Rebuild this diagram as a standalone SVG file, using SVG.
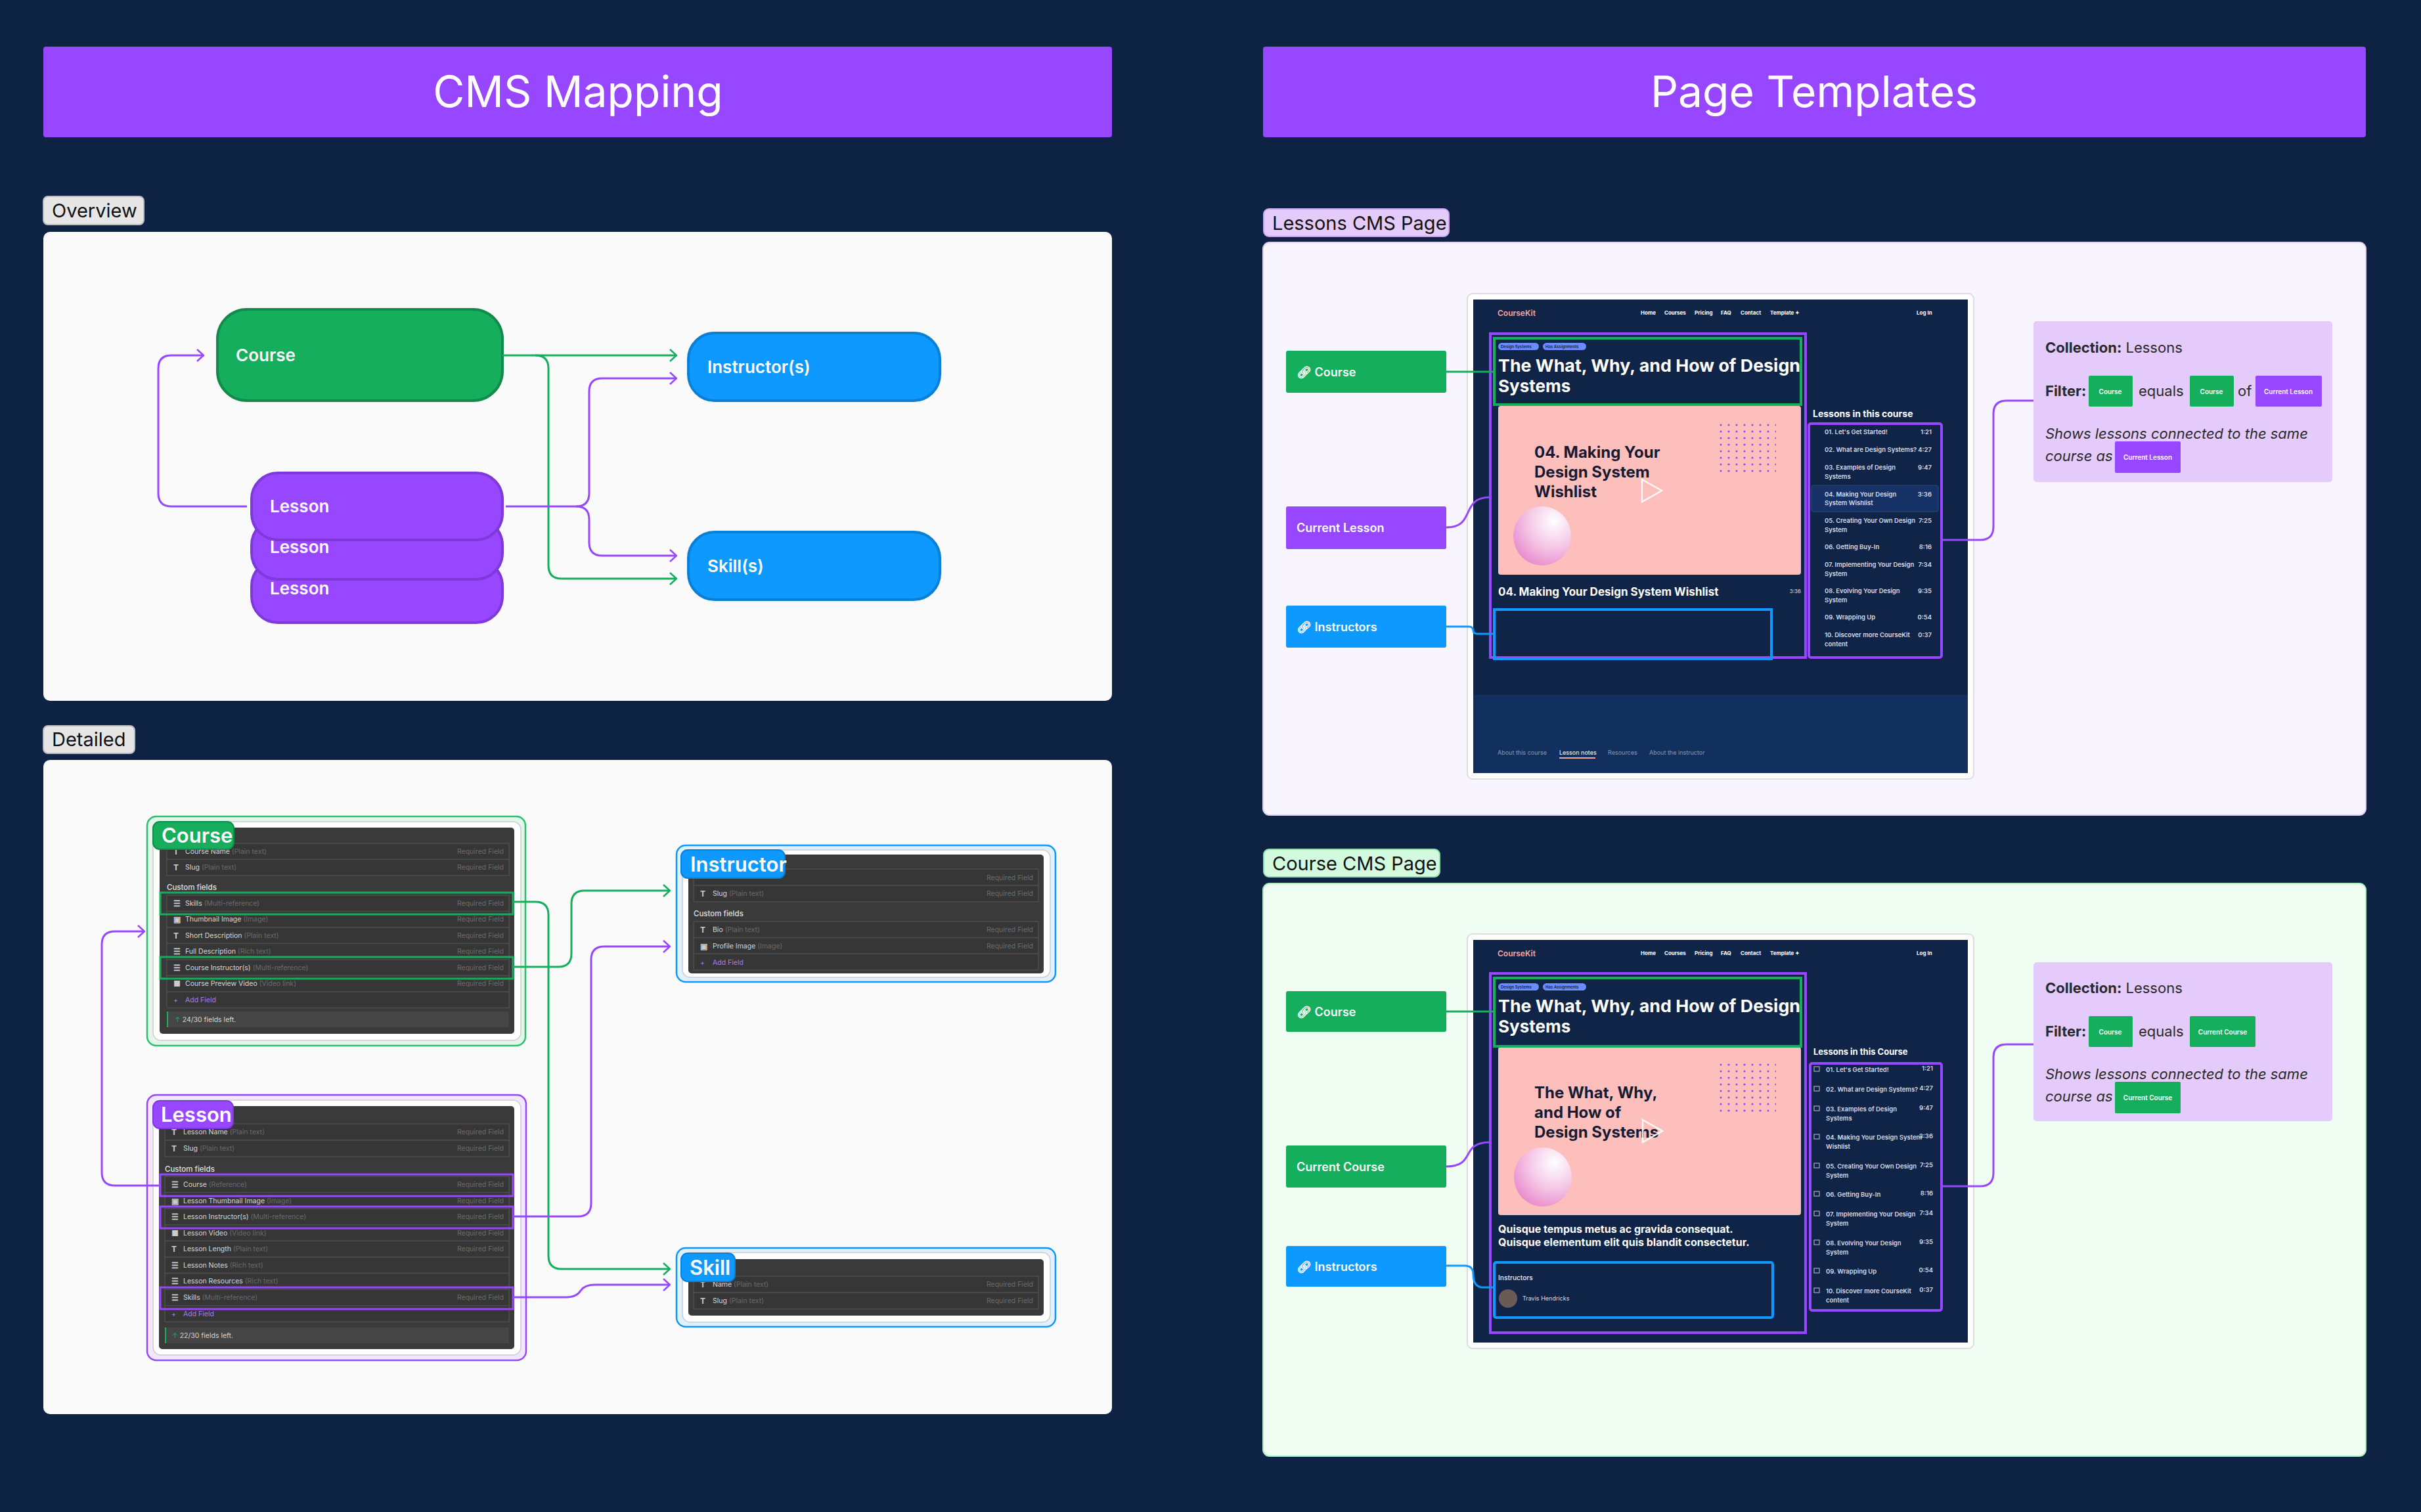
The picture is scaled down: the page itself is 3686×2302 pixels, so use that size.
<svg xmlns="http://www.w3.org/2000/svg" width="3686" height="2302" viewBox="0 0 3686 2302">
<defs>
<style>
text{font-family:Inter,"Liberation Sans",sans-serif}
.h1{font-size:66px;fill:#fff;text-anchor:middle}
.tag{font-size:29px;fill:#111}
.nd{font-size:26px;fill:#fff;font-weight:600}
.ct{font-size:31px;fill:#fff;font-weight:600}
.row{fill:#363636;stroke:#4d4d4d;stroke-width:1.5}
.rn{font-size:10.5px;fill:#d6d6d6}
.rt{font-size:10.5px;fill:#6b6b6b}
.rq{font-size:10.5px;fill:#6b6b6b;text-anchor:end}
.cf{font-size:11.5px;fill:#e0e0e0;font-weight:500}
.ic{font-size:12px;fill:#ccc;font-weight:700}
.add{font-size:10.5px;fill:#a77df0}
.g{stroke:#14ae5c;stroke-width:3;fill:none}
.p{stroke:#9747ff;stroke-width:3;fill:none}
.b{stroke:#0d99ff;stroke-width:3;fill:none}
.nav{font-size:8px;fill:#fff;font-weight:700}
.li{font-size:9.5px;fill:#d8dce6;font-weight:600}
.lt{font-size:9.5px;fill:#d8dce6;font-weight:600;text-anchor:end}
.lab{font-size:18px;fill:#fff;font-weight:600}
.ft{font-size:22px;fill:#2a2a2a}
.chip{font-size:10px;fill:#fff;font-weight:600;text-anchor:middle}
</style>
<marker id="ag" viewBox="0 0 12 20" refX="11" refY="10" markerWidth="12" markerHeight="20" markerUnits="userSpaceOnUse" orient="auto"><path d="M1,1 L11,10 L1,19" fill="none" stroke="#14ae5c" stroke-width="2.5"/></marker>
<marker id="ap" viewBox="0 0 12 20" refX="11" refY="10" markerWidth="12" markerHeight="20" markerUnits="userSpaceOnUse" orient="auto"><path d="M1,1 L11,10 L1,19" fill="none" stroke="#9747ff" stroke-width="2.5"/></marker>
<radialGradient id="sph" cx="0.7" cy="0.25" r="0.9"><stop offset="0" stop-color="#fff"/><stop offset="0.5" stop-color="#f5c6e6"/><stop offset="1" stop-color="#e67fc7"/></radialGradient>
<pattern id="dots" x="2618" y="645" width="12" height="10" patternUnits="userSpaceOnUse"><circle cx="2" cy="2" r="1.6" fill="#9747ff"/></pattern>
<pattern id="dots2" x="2618" y="1619" width="12" height="10" patternUnits="userSpaceOnUse"><circle cx="2" cy="2" r="1.6" fill="#9747ff"/></pattern>
</defs>
<rect width="3686" height="2302" fill="#0e2244"/>

<!-- titles -->
<g id="title-cms"><rect x="66" y="71" width="1627" height="138" rx="4" fill="#9747ff"/><text class="h1" x="880" y="163">CMS Mapping</text></g>
<g id="title-pages"><rect x="1923" y="71" width="1679" height="138" rx="4" fill="#9747ff"/><text class="h1" x="2762" y="163">Page Templates</text></g>

<!-- Overview -->
<g id="overview-tag"><rect x="66" y="299" width="153" height="43" rx="7" fill="#e6e6e6" stroke="#bbb" stroke-width="2"/><text class="tag" x="79" y="331">Overview</text></g>
<rect x="66" y="353" width="1627" height="714" rx="10" fill="#fafafa"/>
<g id="ov-lesson3"><rect x="383" y="852" width="382" height="96" rx="40" fill="#9747ff" stroke="#7f38d9" stroke-width="4"/><text class="nd" x="411" y="905">Lesson</text></g>
<g id="ov-lesson2"><rect x="383" y="790" width="382" height="92" rx="40" fill="#9747ff" stroke="#7f38d9" stroke-width="4"/><text class="nd" x="411" y="842">Lesson</text></g>
<g id="ov-lesson1"><rect x="383" y="720" width="382" height="102" rx="40" fill="#9747ff" stroke="#7f38d9" stroke-width="4"/><text class="nd" x="411" y="780">Lesson</text></g>
<g id="ov-course"><rect x="331" y="471" width="434" height="139" rx="45" fill="#14ae5c" stroke="#128a4b" stroke-width="4"/><text class="nd" x="359" y="550">Course</text></g>
<g id="ov-instructor"><rect x="1048" y="507" width="383" height="103" rx="40" fill="#0d99ff" stroke="#0a7fd6" stroke-width="4"/><text class="nd" x="1077" y="568">Instructor(s)</text></g>
<g id="ov-skill"><rect x="1048" y="810" width="383" height="103" rx="40" fill="#0d99ff" stroke="#0a7fd6" stroke-width="4"/><text class="nd" x="1077" y="871">Skill(s)</text></g>

<!-- Detailed -->
<g id="detailed-tag"><rect x="66" y="1105" width="139" height="42" rx="7" fill="#e6e6e6" stroke="#bbb" stroke-width="2"/><text class="tag" x="79" y="1136">Detailed</text></g>
<rect x="66" y="1157" width="1627" height="996" rx="10" fill="#fafafa"/>

<g id="d-course">
<rect x="224" y="1243" width="576" height="349" rx="14" fill="#e3f6ea" stroke="#2cc06c" stroke-width="2.5"/>
<rect x="233" y="1251" width="560" height="333" rx="12" fill="#fff" stroke="#ccc" stroke-width="1.5"/>
<rect x="243" y="1260" width="540" height="314" rx="5" fill="#3a3a3a"/>
<rect class="row" x="254" y="1284" width="521" height="24.5"/><rect class="row" x="254" y="1308.5" width="521" height="24.5"/>
<text class="ic" x="264" y="1301">T</text><text class="rn" x="282" y="1300">Course Name <tspan class="rt">(Plain text)</tspan></text><text class="rq" x="767" y="1300">Required Field</text>
<text class="ic" x="264" y="1325">T</text><text class="rn" x="282" y="1324">Slug <tspan class="rt">(Plain text)</tspan></text><text class="rq" x="767" y="1324">Required Field</text>
<text class="cf" x="254" y="1355">Custom fields</text>
<rect class="row" x="254" y="1363" width="521" height="24.5"/><rect class="row" x="254" y="1387.5" width="521" height="24.5"/><rect class="row" x="254" y="1412" width="521" height="24.5"/><rect class="row" x="254" y="1436.5" width="521" height="24.5"/><rect class="row" x="254" y="1461" width="521" height="24.5"/><rect class="row" x="254" y="1485.5" width="521" height="24.5"/><rect class="row" x="254" y="1510" width="521" height="24.5"/>
<text class="ic" x="264" y="1380">☰</text><text class="rn" x="282" y="1379">Skills <tspan class="rt">(Multi-reference)</tspan></text><text class="rq" x="767" y="1379">Required Field</text>
<text class="ic" x="264" y="1404">▣</text><text class="rn" x="282" y="1403">Thumbnail Image <tspan class="rt">(Image)</tspan></text><text class="rq" x="767" y="1403">Required Field</text>
<text class="ic" x="264" y="1429">T</text><text class="rn" x="282" y="1428">Short Description <tspan class="rt">(Plain text)</tspan></text><text class="rq" x="767" y="1428">Required Field</text>
<text class="ic" x="264" y="1453">☰</text><text class="rn" x="282" y="1452">Full Description <tspan class="rt">(Rich text)</tspan></text><text class="rq" x="767" y="1452">Required Field</text>
<text class="ic" x="264" y="1478">☰</text><text class="rn" x="282" y="1477">Course Instructor(s) <tspan class="rt">(Multi-reference)</tspan></text><text class="rq" x="767" y="1477">Required Field</text>
<text class="ic" x="264" y="1502">■</text><text class="rn" x="282" y="1501">Course Preview Video <tspan class="rt">(Video link)</tspan></text><text class="rq" x="767" y="1501">Required Field</text>
<text class="add" x="264" y="1526">+</text><text class="add" x="282" y="1526">Add Field</text>
<rect x="254" y="1540" width="521" height="24" fill="#454545"/><rect x="254" y="1540" width="2" height="24" fill="#14ae5c"/>
<text class="rn" x="266" y="1556"><tspan fill="#14ae5c">↑</tspan> 24/30 fields left.</text>
<rect x="244" y="1359" width="537" height="33" fill="none" stroke="#14ae5c" stroke-width="3"/>
<rect x="244" y="1457" width="537" height="33" fill="none" stroke="#14ae5c" stroke-width="3"/>
<rect x="233" y="1251" width="123" height="42" rx="10" fill="#14ae5c" stroke="#128a4b" stroke-width="2"/><text class="ct" x="246" y="1283">Course</text>
</g>

<g id="d-lesson">
<rect x="224" y="1667" width="577" height="404" rx="14" fill="#f1e7ff" stroke="#9747ff" stroke-width="2.5"/>
<rect x="233" y="1675" width="560" height="388" rx="12" fill="#fff" stroke="#ccc" stroke-width="1.5"/>
<rect x="242" y="1684" width="541" height="370" rx="5" fill="#3a3a3a"/>
<rect class="row" x="251" y="1711" width="524" height="25"/><rect class="row" x="251" y="1736" width="524" height="25"/>
<text class="ic" x="261" y="1728">T</text><text class="rn" x="279" y="1727">Lesson Name <tspan class="rt">(Plain text)</tspan></text><text class="rq" x="767" y="1727">Required Field</text>
<text class="ic" x="261" y="1753">T</text><text class="rn" x="279" y="1752">Slug <tspan class="rt">(Plain text)</tspan></text><text class="rq" x="767" y="1752">Required Field</text>
<text class="cf" x="251" y="1784">Custom fields</text>
<rect class="row" x="251" y="1791" width="524" height="24.6"/><rect class="row" x="251" y="1815.6" width="524" height="24.6"/><rect class="row" x="251" y="1840.2" width="524" height="24.6"/><rect class="row" x="251" y="1864.8" width="524" height="24.6"/><rect class="row" x="251" y="1889.4" width="524" height="24.6"/><rect class="row" x="251" y="1914" width="524" height="24.6"/><rect class="row" x="251" y="1938.6" width="524" height="24.6"/><rect class="row" x="251" y="1963.2" width="524" height="24.6"/><rect class="row" x="251" y="1987.8" width="524" height="24.6"/>
<text class="ic" x="261" y="1808">☰</text><text class="rn" x="279" y="1807">Course <tspan class="rt">(Reference)</tspan></text><text class="rq" x="767" y="1807">Required Field</text>
<text class="ic" x="261" y="1833">▣</text><text class="rn" x="279" y="1832">Lesson Thumbnail Image <tspan class="rt">(Image)</tspan></text><text class="rq" x="767" y="1832">Required Field</text>
<text class="ic" x="261" y="1857">☰</text><text class="rn" x="279" y="1856">Lesson Instructor(s) <tspan class="rt">(Multi-reference)</tspan></text><text class="rq" x="767" y="1856">Required Field</text>
<text class="ic" x="261" y="1882">■</text><text class="rn" x="279" y="1881">Lesson Video <tspan class="rt">(Video link)</tspan></text><text class="rq" x="767" y="1881">Required Field</text>
<text class="ic" x="261" y="1906">T</text><text class="rn" x="279" y="1905">Lesson Length <tspan class="rt">(Plain text)</tspan></text><text class="rq" x="767" y="1905">Required Field</text>
<text class="ic" x="261" y="1931">☰</text><text class="rn" x="279" y="1930">Lesson Notes <tspan class="rt">(Rich text)</tspan></text>
<text class="ic" x="261" y="1955">☰</text><text class="rn" x="279" y="1954">Lesson Resources <tspan class="rt">(Rich text)</tspan></text>
<text class="ic" x="261" y="1980">☰</text><text class="rn" x="279" y="1979">Skills <tspan class="rt">(Multi-reference)</tspan></text><text class="rq" x="767" y="1979">Required Field</text>
<text class="add" x="261" y="2004">+</text><text class="add" x="279" y="2004">Add Field</text>
<rect x="251" y="2021" width="524" height="24" fill="#454545"/><rect x="251" y="2021" width="2" height="24" fill="#14ae5c"/>
<text class="rn" x="262" y="2037"><tspan fill="#14ae5c">↑</tspan> 22/30 fields left.</text>
<rect x="244" y="1788" width="537" height="33" fill="none" stroke="#9747ff" stroke-width="3"/>
<rect x="244" y="1837" width="537" height="33" fill="none" stroke="#9747ff" stroke-width="3"/>
<rect x="244" y="1960" width="537" height="33" fill="none" stroke="#9747ff" stroke-width="3"/>
<rect x="233" y="1676" width="122" height="42" rx="10" fill="#9747ff" stroke="#7f38d9" stroke-width="2"/><text class="ct" x="245" y="1708">Lesson</text>
</g>

<g id="d-instructor">
<rect x="1030" y="1287" width="577" height="208" rx="14" fill="#dff0ff" stroke="#0d99ff" stroke-width="2.5"/>
<rect x="1039" y="1294" width="560" height="194" rx="12" fill="#fff" stroke="#ccc" stroke-width="1.5"/>
<rect x="1048" y="1301" width="541" height="181" rx="5" fill="#3a3a3a"/>
<rect class="row" x="1056" y="1323" width="525" height="25"/><rect class="row" x="1056" y="1348" width="525" height="25"/>
<text class="ic" x="1066" y="1365">T</text><text class="rn" x="1085" y="1364">Slug <tspan class="rt">(Plain text)</tspan></text><text class="rq" x="1573" y="1340">Required Field</text><text class="rq" x="1573" y="1364">Required Field</text>
<text class="cf" x="1056" y="1395">Custom fields</text>
<rect class="row" x="1056" y="1403" width="525" height="24.6"/><rect class="row" x="1056" y="1427.6" width="525" height="24.6"/><rect class="row" x="1056" y="1452.2" width="525" height="24.6"/>
<text class="ic" x="1066" y="1420">T</text><text class="rn" x="1085" y="1419">Bio <tspan class="rt">(Plain text)</tspan></text><text class="rq" x="1573" y="1419">Required Field</text>
<text class="ic" x="1066" y="1445">▣</text><text class="rn" x="1085" y="1444">Profile Image <tspan class="rt">(Image)</tspan></text><text class="rq" x="1573" y="1444">Required Field</text>
<text class="add" x="1066" y="1469">+</text><text class="add" x="1085" y="1469">Add Field</text>
<rect x="1037" y="1294" width="158" height="43" rx="10" fill="#0d99ff" stroke="#0a7fd6" stroke-width="2"/><text class="ct" x="1051" y="1327">Instructor</text>
</g>

<g id="d-skill">
<rect x="1030" y="1900" width="577" height="120" rx="14" fill="#dff0ff" stroke="#0d99ff" stroke-width="2.5"/>
<rect x="1039" y="1907" width="560" height="106" rx="12" fill="#fff" stroke="#ccc" stroke-width="1.5"/>
<rect x="1048" y="1917" width="541" height="86" rx="5" fill="#3a3a3a"/>
<rect class="row" x="1056" y="1943" width="525" height="25"/><rect class="row" x="1056" y="1968" width="525" height="25"/>
<text class="ic" x="1066" y="1960">T</text><text class="rn" x="1085" y="1959">Name <tspan class="rt">(Plain text)</tspan></text><text class="rq" x="1573" y="1959">Required Field</text>
<text class="ic" x="1066" y="1985">T</text><text class="rn" x="1085" y="1984">Slug <tspan class="rt">(Plain text)</tspan></text><text class="rq" x="1573" y="1984">Required Field</text>
<rect x="1037" y="1908" width="82" height="43" rx="10" fill="#0d99ff" stroke="#0a7fd6" stroke-width="2"/><text class="ct" x="1050" y="1941">Skill</text>
</g>

<!-- Lessons CMS Page -->
<g id="lessons-tag"><rect x="1924" y="318" width="282" height="42" rx="8" fill="#e4cbfb" stroke="#c9a6f5" stroke-width="2"/><text class="tag" x="1937" y="350">Lessons CMS Page</text></g>
<rect x="1923" y="369" width="1679" height="872" rx="10" fill="#f8f5fe" stroke="#ddd0f5" stroke-width="2"/>

<g id="lp-browser">
<rect x="2234" y="447" width="771" height="739" rx="8" fill="#fff" stroke="#ddd" stroke-width="2"/>
<rect x="2243" y="456" width="753" height="721" fill="#0f2446"/>
<rect x="2243" y="1058" width="753" height="119" fill="#12305e"/>
<text x="2280" y="481" font-size="12" fill="#f5a8a2" font-weight="600">CourseKit</text>
<text class="nav" x="2498" y="479">Home</text><text class="nav" x="2534" y="479">Courses</text><text class="nav" x="2580" y="479">Pricing</text><text class="nav" x="2620" y="479">FAQ</text><text class="nav" x="2650" y="479">Contact</text><text class="nav" x="2695" y="479">Template ✦</text><text class="nav" x="2918" y="479">Log In</text>
<rect x="2281" y="522" width="62" height="11" rx="5.5" fill="#6b8cff"/><text x="2285" y="530" font-size="6" fill="#0f2446" font-weight="600">Design Systems</text>
<rect x="2349" y="522" width="66" height="11" rx="5.5" fill="#6b8cff"/><text x="2353" y="530" font-size="6" fill="#0f2446" font-weight="600">Has Assignments</text>
<text x="2281" y="566" font-size="26" fill="#fff" font-weight="700" textLength="460" lengthAdjust="spacingAndGlyphs">The What, Why, and How of Design</text>
<text x="2281" y="597" font-size="26" fill="#fff" font-weight="700">Systems</text>
<rect x="2281" y="618" width="461" height="257" rx="4" fill="#fdbfbc"/>
<rect x="2618" y="645" width="86" height="76" fill="url(#dots)"/>
<text x="2336" y="697" font-size="24" fill="#161a33" font-weight="700">04. Making Your</text>
<text x="2336" y="727" font-size="24" fill="#161a33" font-weight="700">Design System</text>
<text x="2336" y="757" font-size="24" fill="#161a33" font-weight="700">Wishlist</text>
<path d="M2500,730 L2530,747 L2500,764 Z" fill="none" stroke="#fff" stroke-width="2.5" opacity="0.9"/>
<ellipse cx="2348" cy="816" rx="44" ry="45" fill="url(#sph)"/>
<text x="2281" y="907" font-size="17" fill="#fff" font-weight="700">04. Making Your Design System Wishlist</text>
<text x="2742" y="903" font-size="8" fill="#d8dce6" text-anchor="end">3:36</text>
<text x="2760" y="635" font-size="14" fill="#fff" font-weight="700">Lessons in this course</text>
<rect x="2758" y="739" width="193" height="40" rx="3" fill="#163266" stroke="#2c4a80"/>
<g>
<text class="li" x="2778" y="661">01. Let's Get Started!</text><text class="lt" x="2941" y="661">1:21</text>
<text class="li" x="2778" y="688">02. What are Design Systems?</text><text class="lt" x="2941" y="688">4:27</text>
<text class="li" x="2778" y="715">03. Examples of Design</text><text class="li" x="2778" y="729">Systems</text><text class="lt" x="2941" y="715">9:47</text>
<text class="li" x="2778" y="756" fill="#fff">04. Making Your Design</text><text class="li" x="2778" y="769">System Wishlist</text><text class="lt" x="2941" y="756">3:36</text>
<text class="li" x="2778" y="796">05. Creating Your Own Design</text><text class="li" x="2778" y="810">System</text><text class="lt" x="2941" y="796">7:25</text>
<text class="li" x="2778" y="836">06. Getting Buy-In</text><text class="lt" x="2941" y="836">8:16</text>
<text class="li" x="2778" y="863">07. Implementing Your Design</text><text class="li" x="2778" y="877">System</text><text class="lt" x="2941" y="863">7:34</text>
<text class="li" x="2778" y="903">08. Evolving Your Design</text><text class="li" x="2778" y="917">System</text><text class="lt" x="2941" y="903">9:35</text>
<text class="li" x="2778" y="943">09. Wrapping Up</text><text class="lt" x="2941" y="943">0:54</text>
<text class="li" x="2778" y="970">10. Discover more CourseKit</text><text class="li" x="2778" y="984">content</text><text class="lt" x="2941" y="970">0:37</text>
</g>
<text x="2280" y="1149" font-size="9" fill="#8b97b3">About this course</text>
<text x="2374" y="1149" font-size="9" fill="#fff">Lesson notes</text><rect x="2374" y="1153" width="55" height="2" fill="#f5a8a2"/>
<text x="2448" y="1149" font-size="9" fill="#8b97b3">Resources</text>
<text x="2511" y="1149" font-size="9" fill="#8b97b3">About the instructor</text>
<rect x="2269" y="508" width="480" height="493" fill="none" stroke="#9747ff" stroke-width="4"/>
<rect x="2275" y="515" width="467" height="101" fill="none" stroke="#14ae5c" stroke-width="4"/>
<rect x="2275" y="928" width="422" height="75" fill="none" stroke="#0d99ff" stroke-width="4"/>
<rect x="2754" y="645" width="202" height="356" rx="3" fill="none" stroke="#9747ff" stroke-width="4"/>
</g>

<g id="lp-course-label"><rect x="1958" y="534" width="244" height="64" rx="3" fill="#14ae5c"/><text class="lab" x="1974" y="573">🔗︎ Course</text></g>
<g id="lp-lesson-label"><rect x="1958" y="771" width="244" height="65" rx="3" fill="#9747ff"/><text class="lab" x="1974" y="810">Current Lesson</text></g>
<g id="lp-instr-label"><rect x="1958" y="922" width="244" height="64" rx="3" fill="#0d99ff"/><text class="lab" x="1974" y="961">🔗︎ Instructors</text></g>

<g id="lp-filter">
<rect x="3096" y="489" width="455" height="245" rx="5" fill="#e4cbfb"/>
<text class="ft" x="3114" y="537"><tspan font-weight="700">Collection:</tspan> Lessons</text>
<text class="ft" x="3114" y="603" font-weight="700">Filter:</text>
<rect x="3180" y="572" width="67" height="47" rx="2" fill="#14ae5c"/><text class="chip" x="3213" y="600">Course</text>
<text class="ft" x="3256" y="603">equals</text>
<rect x="3334" y="572" width="67" height="47" rx="2" fill="#14ae5c"/><text class="chip" x="3367" y="600">Course</text>
<text class="ft" x="3407" y="603">of</text>
<rect x="3434" y="572" width="101" height="47" rx="2" fill="#9747ff"/><text class="chip" x="3484" y="600">Current Lesson</text>
<text class="ft" x="3114" y="668" font-style="italic">Shows lessons connected to the same</text>
<text class="ft" x="3114" y="702" font-style="italic">course as</text>
<rect x="3220" y="672" width="100" height="48" rx="2" fill="#9747ff"/><text class="chip" x="3270" y="700">Current Lesson</text>
</g>

<!-- Course CMS Page -->
<g id="course-tag"><rect x="1924" y="1293" width="268" height="42" rx="8" fill="#d1fadf" stroke="#8fe0ad" stroke-width="2"/><text class="tag" x="1937" y="1325">Course CMS Page</text></g>
<rect x="1923" y="1345" width="1679" height="872" rx="10" fill="#effdf3" stroke="#a7f0c0" stroke-width="2"/>

<g id="cp-browser">
<rect x="2234" y="1422" width="771" height="631" rx="8" fill="#fff" stroke="#ddd" stroke-width="2"/>
<rect x="2243" y="1431" width="753" height="613" fill="#0f2446"/>
<text x="2280" y="1456" font-size="12" fill="#f5a8a2" font-weight="600">CourseKit</text>
<text class="nav" x="2498" y="1454">Home</text><text class="nav" x="2534" y="1454">Courses</text><text class="nav" x="2580" y="1454">Pricing</text><text class="nav" x="2620" y="1454">FAQ</text><text class="nav" x="2650" y="1454">Contact</text><text class="nav" x="2695" y="1454">Template ✦</text><text class="nav" x="2918" y="1454">Log In</text>
<rect x="2281" y="1497" width="62" height="11" rx="5.5" fill="#6b8cff"/><text x="2285" y="1505" font-size="6" fill="#0f2446" font-weight="600">Design Systems</text>
<rect x="2349" y="1497" width="66" height="11" rx="5.5" fill="#6b8cff"/><text x="2353" y="1505" font-size="6" fill="#0f2446" font-weight="600">Has Assignments</text>
<text x="2281" y="1541" font-size="26" fill="#fff" font-weight="700" textLength="460" lengthAdjust="spacingAndGlyphs">The What, Why, and How of Design</text>
<text x="2281" y="1572" font-size="26" fill="#fff" font-weight="700">Systems</text>
<rect x="2281" y="1594" width="461" height="256" rx="4" fill="#fdbfbc"/>
<rect x="2618" y="1619" width="86" height="76" fill="url(#dots2)"/>
<text x="2336" y="1672" font-size="24" fill="#161a33" font-weight="700">The What, Why,</text>
<text x="2336" y="1702" font-size="24" fill="#161a33" font-weight="700">and How of</text>
<text x="2336" y="1732" font-size="24" fill="#161a33" font-weight="700">Design Systems</text>
<path d="M2501,1705 L2531,1722 L2501,1739 Z" fill="none" stroke="#fff" stroke-width="2.5" opacity="0.9"/>
<ellipse cx="2349" cy="1792" rx="44" ry="45" fill="url(#sph)"/>
<text x="2281" y="1877" font-size="16" fill="#fff" font-weight="700">Quisque tempus metus ac gravida consequat.</text>
<text x="2281" y="1897" font-size="16" fill="#fff" font-weight="700">Quisque elementum elit quis blandit consectetur.</text>
<text x="2281" y="1949" font-size="10" fill="#d8dce6" font-weight="600">Instructors</text>
<circle cx="2296" cy="1977" r="14" fill="#6b5a55"/>
<text x="2318" y="1980" font-size="9" fill="#d8dce6">Travis Hendricks</text>
<text x="2761" y="1606" font-size="13" fill="#fff" font-weight="700">Lessons in this Course</text>
<g>
<text class="li" x="2780" y="1632">01. Let's Get Started!</text><text class="lt" x="2943" y="1630">1:21</text>
<text class="li" x="2780" y="1662">02. What are Design Systems?</text><text class="lt" x="2943" y="1660">4:27</text>
<text class="li" x="2780" y="1692">03. Examples of Design</text><text class="li" x="2780" y="1706">Systems</text><text class="lt" x="2943" y="1690">9:47</text>
<text class="li" x="2780" y="1735">04. Making Your Design System</text><text class="li" x="2780" y="1749">Wishlist</text><text class="lt" x="2943" y="1733">3:36</text>
<text class="li" x="2780" y="1779">05. Creating Your Own Design</text><text class="li" x="2780" y="1793">System</text><text class="lt" x="2943" y="1777">7:25</text>
<text class="li" x="2780" y="1822">06. Getting Buy-In</text><text class="lt" x="2943" y="1820">8:16</text>
<text class="li" x="2780" y="1852">07. Implementing Your Design</text><text class="li" x="2780" y="1866">System</text><text class="lt" x="2943" y="1850">7:34</text>
<text class="li" x="2780" y="1896">08. Evolving Your Design</text><text class="li" x="2780" y="1910">System</text><text class="lt" x="2943" y="1894">9:35</text>
<text class="li" x="2780" y="1939">09. Wrapping Up</text><text class="lt" x="2943" y="1937">0:54</text>
<text class="li" x="2780" y="1969">10. Discover more CourseKit</text><text class="li" x="2780" y="1983">content</text><text class="lt" x="2943" y="1967">0:37</text>
</g>
<g fill="none" stroke="#aab" stroke-width="1.2">
<rect x="2762" y="1624" width="8" height="7"/><rect x="2762" y="1654" width="8" height="7"/><rect x="2762" y="1684" width="8" height="7"/><rect x="2762" y="1727" width="8" height="7"/><rect x="2762" y="1771" width="8" height="7"/><rect x="2762" y="1814" width="8" height="7"/><rect x="2762" y="1844" width="8" height="7"/><rect x="2762" y="1888" width="8" height="7"/><rect x="2762" y="1931" width="8" height="7"/><rect x="2762" y="1961" width="8" height="7"/>
</g>
<rect x="2269" y="1482" width="480" height="547" fill="none" stroke="#9747ff" stroke-width="4"/>
<rect x="2275" y="1489" width="467" height="104" fill="none" stroke="#14ae5c" stroke-width="4"/>
<rect x="2275" y="1922" width="424" height="84" rx="3" fill="none" stroke="#0d99ff" stroke-width="4"/>
<rect x="2756" y="1619" width="200" height="376" rx="3" fill="none" stroke="#9747ff" stroke-width="4"/>
</g>

<g id="cp-course-label"><rect x="1958" y="1509" width="244" height="62" rx="3" fill="#14ae5c"/><text class="lab" x="1974" y="1547">🔗︎ Course</text></g>
<g id="cp-current-label"><rect x="1958" y="1744" width="244" height="64" rx="3" fill="#14ae5c"/><text class="lab" x="1974" y="1783">Current Course</text></g>
<g id="cp-instr-label"><rect x="1958" y="1897" width="244" height="62" rx="3" fill="#0d99ff"/><text class="lab" x="1974" y="1935">🔗︎ Instructors</text></g>

<g id="cp-filter">
<rect x="3096" y="1465" width="455" height="242" rx="5" fill="#e4cbfb"/>
<text class="ft" x="3114" y="1512"><tspan font-weight="700">Collection:</tspan> Lessons</text>
<text class="ft" x="3114" y="1578" font-weight="700">Filter:</text>
<rect x="3180" y="1547" width="67" height="47" rx="2" fill="#14ae5c"/><text class="chip" x="3213" y="1575">Course</text>
<text class="ft" x="3256" y="1578">equals</text>
<rect x="3334" y="1547" width="100" height="47" rx="2" fill="#14ae5c"/><text class="chip" x="3384" y="1575">Current Course</text>
<text class="ft" x="3114" y="1643" font-style="italic">Shows lessons connected to the same</text>
<text class="ft" x="3114" y="1677" font-style="italic">course as</text>
<rect x="3220" y="1647" width="100" height="48" rx="2" fill="#14ae5c"/><text class="chip" x="3270" y="1675">Current Course</text>
</g>

<!-- connectors -->
<g id="connectors">
<path class="g" d="M765,541 H1030" marker-end="url(#ag)"/>
<path class="g" d="M815,541 Q835,541 835,561 V861 Q835,881 855,881 H1030" marker-end="url(#ag)"/>
<path class="p" d="M376,771 H261 Q241,771 241,751 V561 Q241,541 261,541 H310" marker-end="url(#ap)"/>
<path class="p" d="M770,771 H877 Q897,771 897,751 V596 Q897,576 917,576 H1030" marker-end="url(#ap)"/>
<path class="p" d="M877,771 Q897,771 897,791 V826 Q897,846 917,846 H1030" marker-end="url(#ap)"/>

<path class="g" d="M781,1373 H815 Q835,1373 835,1393 V1912 Q835,1932 855,1932 H1020" marker-end="url(#ag)"/>
<path class="g" d="M781,1472 H850 Q870,1472 870,1452 V1376 Q870,1356 890,1356 H1020" marker-end="url(#ag)"/>
<path class="p" d="M244,1805 H175 Q155,1805 155,1785 V1438 Q155,1418 175,1418 H220" marker-end="url(#ap)"/>
<path class="p" d="M781,1852 H880 Q900,1852 900,1832 V1461 Q900,1441 920,1441 H1020" marker-end="url(#ap)"/>
<path class="p" d="M781,1975 H862 Q878,1975 884,1965 Q890,1956 906,1956 H1020" marker-end="url(#ap)"/>

<path class="g" d="M2202,566 H2275"/>
<path class="p" d="M2202,803 C2248,803 2222,757 2269,757"/>
<path class="b" d="M2202,954 H2236 Q2243,954 2243,960 Q2243,965 2250,965 H2275"/>
<path class="p" d="M2956,822 H3015 Q3035,822 3035,802 V630 Q3035,610 3055,610 H3096"/>
<path class="g" d="M2202,1540 H2275"/>
<path class="p" d="M2202,1776 C2248,1776 2222,1739 2269,1739"/>
<path class="b" d="M2202,1927 H2230 Q2243,1927 2243,1940 Q2243,1960 2258,1960 H2275"/>
<path class="p" d="M2956,1806 H3015 Q3035,1806 3035,1786 V1610 Q3035,1590 3055,1590 H3096"/>
</g>
</svg>
